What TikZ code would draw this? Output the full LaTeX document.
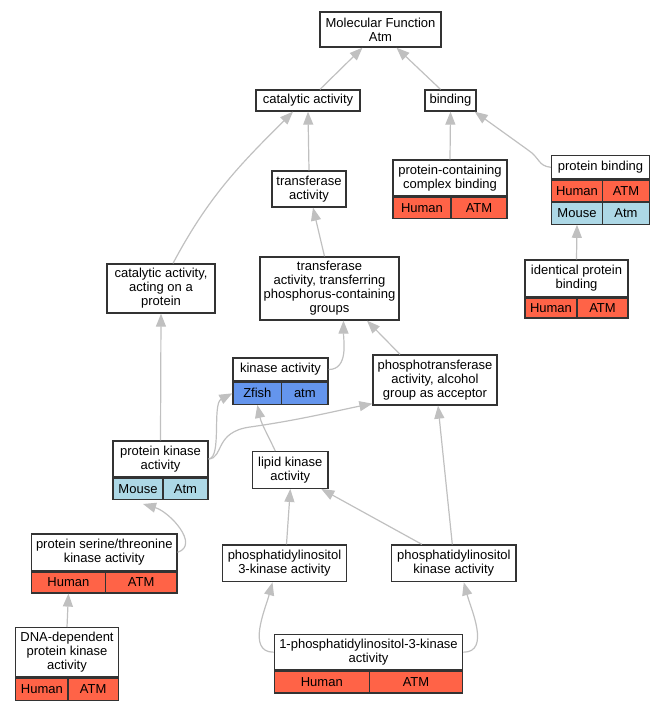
\documentclass[tikz,border=0pt]{standalone}
\usepackage{fontspec}
\setmainfont{Liberation Sans}
\usetikzlibrary{arrows.meta}
\definecolor{human}{HTML}{FF6347}
\definecolor{mouse}{HTML}{ADD8E6}
\definecolor{zfish}{HTML}{6495ED}
\definecolor{edgegray}{HTML}{C0C0C0}
\begin{document}
\begin{tikzpicture}[x=1pt,y=-1pt,
  term/.style={draw=black!80, fill=white, line width=1.3pt, inner sep=0pt, align=center,
    font=\fontsize{13}{14}\selectfont},
  cell/.style={term, minimum height=21pt},
  isa/.style={draw=edgegray, line width=1.2pt, -{Triangle[length=13pt,width=10pt]}}]
\useasboundingbox (0,0) rectangle (664,709);

  % Draw the GO terms
  \node[term, minimum width=121pt, minimum height=35pt] (mf) at (380.5,29.5) {Molecular Function\\Atm};
  \node[term, minimum width=104pt, minimum height=21pt] (cat) at (308,100.5) {catalytic activity};
  \node[term, minimum width=51pt, minimum height=21pt] (bind) at (450.5,100.5) {binding};
  \node[term, minimum width=74pt, minimum height=36pt] (transf) at (309,189) {transferase\\activity};
  \node[term, minimum width=114pt, minimum height=36pt] (pcc) at (450,178) {protein-containing\\complex binding};
  \node[term, minimum width=98pt, minimum height=23.5pt] (pbind) at (600.5,167.3) {protein binding};
  \node[term, minimum width=108pt, minimum height=49pt] (catprot) at (161,288.5) {catalytic activity,\\acting on a\\protein};
  \node[term, minimum width=139pt, minimum height=63pt] (transfP) at (329.5,288.5) {transferase\\activity, transferring\\phosphorus-containing\\groups};
  \node[term, minimum width=103pt, minimum height=36.7pt] (ident) at (576.5,278.3) {identical protein\\binding};
  \node[term, minimum width=95pt, minimum height=23pt] (kinase) at (280.5,369.5) {kinase activity};
  \node[term, minimum width=124pt, minimum height=50pt] (phos) at (435,380) {phosphotransferase\\activity, alcohol\\group as acceptor};
  \node[term, minimum width=95pt, minimum height=36pt] (pk) at (160.5,459) {protein kinase\\activity};
  \node[term, minimum width=75.3pt, minimum height=36.6pt] (lipid) at (290.3,470) {lipid kinase\\activity};
  \node[term, minimum width=145.3pt, minimum height=36.7pt] (pstk) at (104.3,552.3) {protein serine/threonine\\kinase activity};
  \node[term, minimum width=124.4pt, minimum height=36.7pt] (pi3k) at (284.5,563.3) {phosphatidylinositol\\3-kinase activity};
  \node[term, minimum width=124.3pt, minimum height=36.7pt] (pik) at (453.8,563.3) {phosphatidylinositol\\kinase activity};
  \node[term, minimum width=102.6pt, minimum height=49.3pt] (dnapk) at (67,652.3) {DNA-dependent\\protein kinase\\activity};
  \node[term, minimum width=188.4pt, minimum height=35.7pt] (pi3kA) at (368.5,652.2) {1-phosphatidylinositol-3-kinase\\activity};

  % species / gene rows
  \node[cell, fill=human, minimum width=58pt, anchor=north west] (pcc-sp) at (pcc.south west) {Human};
  \node[cell, fill=human, minimum width=56pt, anchor=north east] (pcc-gn) at (pcc.south east) {ATM};
  \node[cell, fill=human, minimum width=51pt, anchor=north west] (pbind-sp1) at (pbind.south west) {Human};
  \node[cell, fill=human, minimum width=47pt, anchor=north east] (pbind-gn1) at (pbind.south east) {ATM};
  \node[cell, fill=mouse, minimum width=51pt, minimum height=21.5pt, anchor=north west] (pbind-sp2) at (pbind-sp1.south west) {Mouse};
  \node[cell, fill=mouse, minimum width=47pt, minimum height=21.5pt, anchor=north east] (pbind-gn2) at (pbind-gn1.south east) {Atm};
  \node[cell, fill=human, minimum width=52pt, minimum height=20pt, anchor=north west] (ident-sp) at (ident.south west) {Human};
  \node[cell, fill=human, minimum width=51pt, minimum height=20pt, anchor=north east] (ident-gn) at (ident.south east) {ATM};
  \node[cell, fill=zfish, minimum width=48.7pt, minimum height=22pt, anchor=north west] (kinase-sp) at (kinase.south west) {Zfish};
  \node[cell, fill=zfish, minimum width=46.3pt, minimum height=22pt, anchor=north east] (kinase-gn) at (kinase.south east) {atm};
  \node[cell, fill=mouse, minimum width=50pt, anchor=north west] (pk-sp) at (pk.south west) {Mouse};
  \node[cell, fill=mouse, minimum width=45pt, anchor=north east] (pk-gn) at (pk.south east) {Atm};
  \node[cell, fill=human, minimum width=73.6pt, anchor=north west] (pstk-sp) at (pstk.south west) {Human};
  \node[cell, fill=human, minimum width=71.7pt, anchor=north east] (pstk-gn) at (pstk.south east) {ATM};
  \node[cell, fill=human, minimum width=52.3pt, minimum height=22pt, anchor=north west] (dnapk-sp) at (dnapk.south west) {Human};
  \node[cell, fill=human, minimum width=50.3pt, minimum height=22pt, anchor=north east] (dnapk-gn) at (dnapk.south east) {ATM};
  \node[cell, fill=human, minimum width=95pt, minimum height=21.7pt, anchor=north west] (pi3kA-sp) at (pi3kA.south west) {Human};
  \node[cell, fill=human, minimum width=93.4pt, minimum height=21.7pt, anchor=north east] (pi3kA-gn) at (pi3kA.south east) {ATM};

  % is_a edges
  \draw[isa] ([xshift=12pt]cat.north) -- ([xshift=-18pt]mf.south);
  \draw[isa] ([xshift=-10pt]bind.north) -- ([xshift=16pt]mf.south);
  \draw[isa] (transf.north) -- (cat.south);
  \draw[isa] ([xshift=12pt]catprot.north) to[out=62,in=-135] ([xshift=-15pt]cat.south);
  \draw[isa] (pcc.north) -- (bind.south);
  \draw[isa] (pbind.west) .. controls (538,166) and (540,158) .. (528,150) -- ([xshift=-2pt]bind.south east);
  \draw[isa] (ident.north) -- (pbind-sp2.south);
  \draw[isa] ([xshift=-5pt]transfP.north) -- ([xshift=4pt]transf.south);
  \draw[isa] (kinase.east) to[out=0,in=-90] ([xshift=14pt]transfP.south);
  \draw[isa] ([xshift=-35pt]phos.north) -- ([xshift=37.5pt]transfP.south);
  \draw[isa] (pk.north) -- (catprot.south);
  \draw[isa] (pk.east) .. controls (222,458) and (212,404) .. (kinase-sp.west);
  \draw[isa] (pk.east) .. controls (224,458) and (214,432) .. (250,427)
    .. controls (300,420) and (340,410) .. ([yshift=2pt]phos.south west);
  \draw[isa] ([xshift=-15pt]lipid.north) to[out=115,in=-78] (kinase-sp.south);
  \draw[isa] (pstk.east) .. controls (200,545) and (170,512) .. ([xshift=5pt,yshift=-4pt]pk-sp.south);
  \draw[isa] (dnapk.north) -- (pstk-sp.south);
  \draw[isa] ([xshift=2pt]pi3k.north) -- (lipid.south);
  \draw[isa] ([xshift=-32pt]pik.north) -- ([xshift=31pt]lipid.south);
  \draw[isa] ([xshift=-1.5pt]pik.north) -- ([xshift=3pt]phos.south);
  \draw[isa] (pi3kA.west) to[out=180,in=-105] ([xshift=-12pt]pi3k.south);
  \draw[isa] (pi3kA.east) to[out=0,in=-75] ([xshift=10pt]pik.south);

\end{tikzpicture}
\end{document}
